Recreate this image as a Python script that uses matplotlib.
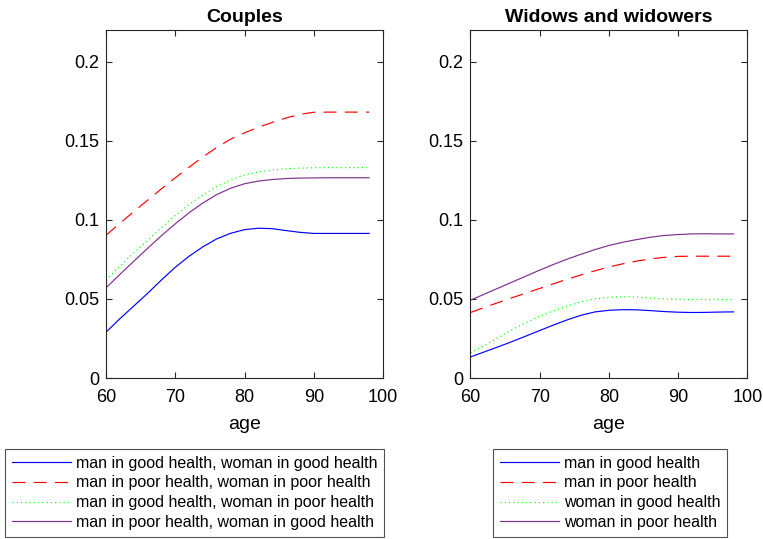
"""Couples vs widows: two panels with bottom legends, MATLAB-style look."""

import matplotlib

matplotlib.use("Agg")
import matplotlib.pyplot as plt

plt.rcParams["font.family"] = ["Liberation Sans", "DejaVu Sans"]

AGES = [60, 62, 64, 66, 68, 70, 72, 74, 76, 78, 80, 82, 84, 86, 88, 90, 92, 94, 96, 98]

# couples
couple_gg = [0.0290, 0.0375, 0.0455, 0.0535, 0.0620, 0.0700, 0.0770, 0.0830, 0.0880, 0.0915,
             0.0938, 0.0947, 0.0944, 0.0932, 0.0921, 0.0914, 0.0914, 0.0914, 0.0914, 0.0914]
couple_pp = [0.0903, 0.0978, 0.1052, 0.1124, 0.1196, 0.1266, 0.1333, 0.1398, 0.1458, 0.1510,
             0.1550, 0.1585, 0.1616, 0.1644, 0.1667, 0.1680, 0.1681, 0.1681, 0.1681, 0.1681]
couple_gp = [0.0620, 0.0705, 0.0790, 0.0870, 0.0950, 0.1028, 0.1097, 0.1158, 0.1210, 0.1252,
             0.1283, 0.1302, 0.1315, 0.1323, 0.1327, 0.1329, 0.1330, 0.1330, 0.1330, 0.1330]
couple_pg = [0.0570, 0.0655, 0.0738, 0.0820, 0.0900, 0.0975, 0.1045, 0.1107, 0.1160, 0.1200,
             0.1228, 0.1245, 0.1255, 0.1261, 0.1264, 0.1265, 0.1266, 0.1266, 0.1266, 0.1266]

# widows and widowers
single_man_good = [0.0133, 0.0165, 0.0197, 0.0230, 0.0265, 0.0300, 0.0335, 0.0368, 0.0397, 0.0418,
                   0.0428, 0.0432, 0.0431, 0.0426, 0.0420, 0.0416, 0.0414, 0.0415, 0.0417, 0.0418]
single_man_poor = [0.0414, 0.0446, 0.0477, 0.0507, 0.0537, 0.0566, 0.0596, 0.0625, 0.0652, 0.0678,
                   0.0702, 0.0722, 0.0739, 0.0753, 0.0763, 0.0769, 0.0770, 0.0770, 0.0770, 0.0770]
single_woman_good = [0.0160, 0.0205, 0.0255, 0.0305, 0.0350, 0.0390, 0.0425, 0.0455, 0.0482, 0.0500,
                     0.0510, 0.0514, 0.0512, 0.0506, 0.0500, 0.0497, 0.0496, 0.0496, 0.0496, 0.0496]
single_woman_poor = [0.0492, 0.0530, 0.0568, 0.0606, 0.0644, 0.0682, 0.0718, 0.0752, 0.0783, 0.0812,
                     0.0838, 0.0858, 0.0875, 0.0890, 0.0901, 0.0907, 0.0911, 0.0912, 0.0911, 0.0911]

COUPLE_LABELS = [
    "man in good health, woman in good health",
    "man in poor health, woman in poor health",
    "man in good health, woman in poor health",
    "man in poor health, woman in good health",
]
SINGLE_LABELS = [
    "man in good health",
    "man in poor health",
    "woman in good health",
    "woman in poor health",
]

PURPLE = (0.494, 0.184, 0.556)
STYLES = [
    dict(color="blue", linestyle="-"),
    dict(color="red", linestyle=(0, (11, 7))),
    dict(color=(0, 1, 0), linestyle=(0, (1, 2.6))),
    dict(color=PURPLE, linestyle="-"),
]
AX_COLOR = (0.15, 0.15, 0.15)


def _style_axes(ax, title):
    ax.set_xlim(60, 100)
    ax.set_ylim(0, 0.22)
    ax.set_xticks([60, 70, 80, 90, 100])
    ax.set_yticks([0, 0.05, 0.1, 0.15, 0.2])
    ax.set_yticklabels(["0", "0.05", "0.1", "0.15", "0.2"])
    ax.tick_params(direction="in", top=True, right=True, labelsize=13, length=4,
                   color=AX_COLOR, labelcolor="black", width=0.8)
    ax.tick_params(axis="x", pad=8)
    ax.tick_params(axis="y", pad=5)
    for s in ax.spines.values():
        s.set_color(AX_COLOR)
        s.set_linewidth(0.8)
    ax.set_xlabel("age", fontsize=14, labelpad=7)
    ax.set_title(title, fontsize=14, fontweight="bold", pad=6)


fig = plt.figure(figsize=(7.63, 5.39), dpi=100)
ax1 = fig.add_axes([0.139, 0.2987, 0.363, 0.6456])
ax2 = fig.add_axes([0.6166, 0.2987, 0.363, 0.6456])

lines1 = []
for ys, st in zip([couple_gg, couple_pp, couple_gp, couple_pg], STYLES):
    (ln,) = ax1.plot(AGES, ys, linewidth=0.85, **st)
    lines1.append(ln)
lines2 = []
for ys, st in zip([single_man_good, single_man_poor, single_woman_good, single_woman_poor], STYLES):
    (ln,) = ax2.plot(AGES, ys, linewidth=0.85, **st)
    lines2.append(ln)

_style_axes(ax1, "Couples")
_style_axes(ax2, "Widows and widowers")

leg_kw = dict(loc="upper left", fontsize=11.5, frameon=True, fancybox=False, handlelength=3.7,
              handletextpad=0.3, labelspacing=0.3, borderpad=0.42, borderaxespad=0)
leg1 = fig.legend(lines1, COUPLE_LABELS, bbox_to_anchor=(5 / 763, 1 - 449 / 539), **leg_kw)
leg2 = fig.legend(lines2, SINGLE_LABELS, bbox_to_anchor=(493 / 763, 1 - 449 / 539), **leg_kw)
for leg in (leg1, leg2):
    leg.get_frame().set_edgecolor(AX_COLOR)
    leg.get_frame().set_linewidth(0.8)

fig.savefig("out.png", dpi=100)
